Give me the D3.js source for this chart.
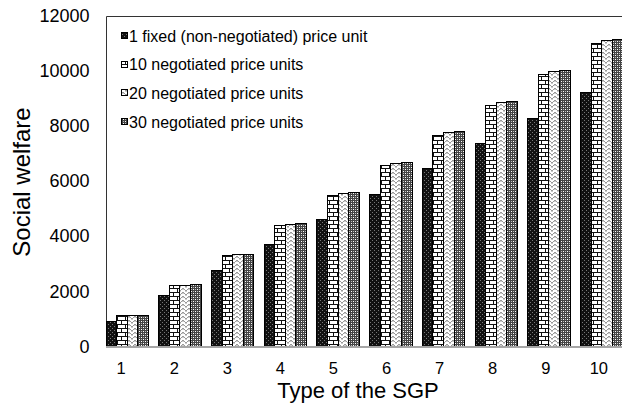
<!DOCTYPE html>
<html><head><meta charset="utf-8">
<script src="https://cdn.jsdelivr.net/npm/d3@7"></script>
<style>body{margin:0;background:#fff}svg{display:block;font-family:"Liberation Sans",Arial,sans-serif}</style>
</head><body><svg id="c" width="622" height="412"></svg>
<script>
const categories = ["1","2","3","4","5","6","7","8","9","10"];
const seriesNames = ["1 fixed (non-negotiated) price unit","10 negotiated price units","20 negotiated price units","30 negotiated price units"];
const fixed1 = [905, 1836, 2754, 3672, 4595, 5508, 6420, 7345, 8260, 9185];
const neg10 = [1092, 2185, 3277, 4370, 5462, 6553, 7645, 8737, 9825, 10949];
const neg20 = [1104, 2209, 3313, 4418, 5522, 6627, 7731, 8835, 9945, 11058];
const neg30 = [1110, 2219, 3329, 4438, 5548, 6657, 7767, 8882, 9981, 11094];
const yTicks = [0, 2000, 4000, 6000, 8000, 10000, 12000];
const series = [fixed1, neg10, neg20, neg30];

const svg = d3.select("#c");
const defs = svg.append("defs");
function px(p, pts, c){ pts.forEach(d=>p.append("rect").attr("x",d[0]).attr("y",d[1]).attr("width",1).attr("height",1).attr("fill",c)); }
// pattern 0: dark dotted
let p = defs.append("pattern").attr("id","p0").attr("width",4).attr("height",4).attr("patternUnits","userSpaceOnUse");
p.append("rect").attr("width",4).attr("height",4).attr("fill","#111");
px(p, [[0,0],[2,2]], "#777");
// pattern 1: brick
p = defs.append("pattern").attr("id","p1").attr("width",8).attr("height",8).attr("patternUnits","userSpaceOnUse");
p.append("rect").attr("width",8).attr("height",8).attr("fill","#fff");
p.append("rect").attr("x",0).attr("y",0).attr("width",8).attr("height",1).attr("fill","#111");
p.append("rect").attr("x",0).attr("y",4).attr("width",8).attr("height",1).attr("fill","#111");
p.append("rect").attr("x",1).attr("y",0).attr("width",1).attr("height",4).attr("fill","#111");
p.append("rect").attr("x",5).attr("y",4).attr("width",1).attr("height",4).attr("fill","#111");
// pattern 2: zigzag light
p = defs.append("pattern").attr("id","p2").attr("width",6).attr("height",4).attr("patternUnits","userSpaceOnUse");
p.append("rect").attr("width",6).attr("height",4).attr("fill","#fff");
px(p, [[0,2],[1,1],[2,0],[3,0],[4,1],[5,2]], "#999");
px(p, [[0,3],[5,3],[2,1],[3,1]], "#ccc");
// pattern 3: gray dots
p = defs.append("pattern").attr("id","p3").attr("width",4).attr("height",4).attr("patternUnits","userSpaceOnUse");
p.append("rect").attr("width",4).attr("height",4).attr("fill","#444");
px(p, [[1,1],[3,3]], "#fff");
px(p, [[1,3],[3,1]], "#bbb");
const fills = ["url(#p0)","url(#p1)","url(#p2)","url(#p3)"];

const y = d3.scaleLinear().domain([0,12000]).range([346,15]);
const x = d3.scaleBand().domain(categories).range([100.9, 628]).paddingInner(0).paddingOuter(0);
const xs = d3.scaleBand().domain(d3.range(4)).range([5.15, x.bandwidth()-5.15]);
const xLab = d3.scalePoint().domain(categories).range([120.7, 598.3]);

// plot frame
svg.append("path").attr("d",`M106.5,346V16.5H622`).attr("fill","none").attr("stroke","#333").attr("stroke-width",1);

// bars
const g = svg.append("g");
series.forEach((s,si)=>{
  g.selectAll(null).data(s).enter().append("rect")
    .attr("x",(d,i)=>x(categories[i])+xs(si))
    .attr("y",d=>y(d))
    .attr("width",xs.bandwidth())
    .attr("height",d=>y(0)-y(d))
    .attr("fill",fills[si]).attr("stroke","#000").attr("stroke-width",1)
    .attr("shape-rendering","crispEdges");
});

// x axis line
svg.append("line").attr("x1",106).attr("x2",622).attr("y1",y(0)+1).attr("y2",y(0)+1).attr("stroke","#a6a6a6").attr("stroke-width",2);

// y axis labels
const ya = svg.append("g").attr("transform","translate(89.5,0.5)")
  .call(d3.axisLeft(y).tickValues(yTicks).tickSize(0).tickPadding(0).tickFormat(d3.format("d")));
ya.select(".domain").remove();
ya.selectAll("text").attr("font-size",18).attr("fill","#000").attr("font-family","Liberation Sans, Arial, sans-serif");

// x axis labels
const xa = svg.append("g").attr("transform","translate(0,"+(y(0)+22)+")")
  .call(d3.axisBottom(xLab).tickSize(0).tickPadding(0));
xa.select(".domain").remove();
xa.selectAll("text").attr("dy","0.35em").attr("font-size",16.5).attr("fill","#000").attr("font-family","Liberation Sans, Arial, sans-serif");

// axis titles
svg.append("text").attr("x",358).attr("y",398).attr("text-anchor","middle").attr("font-size",22).text("Type of the SGP");
svg.append("text").attr("transform","translate(30,182) rotate(-90)").attr("text-anchor","middle").attr("font-size",24).text("Social welfare");

// legend
const lg = svg.append("g");
seriesNames.forEach((n,i)=>{
  const yy = 36 + i*28.7;
  lg.append("rect").attr("x",121.5).attr("y",yy-3.5).attr("width",6).attr("height",6).attr("fill",fills[i]).attr("stroke","#000").attr("stroke-width",1).attr("shape-rendering","crispEdges");
  lg.append("text").attr("x",129).attr("y",yy+5.7).attr("font-size",16).text(n);
});
</script></body></html>
